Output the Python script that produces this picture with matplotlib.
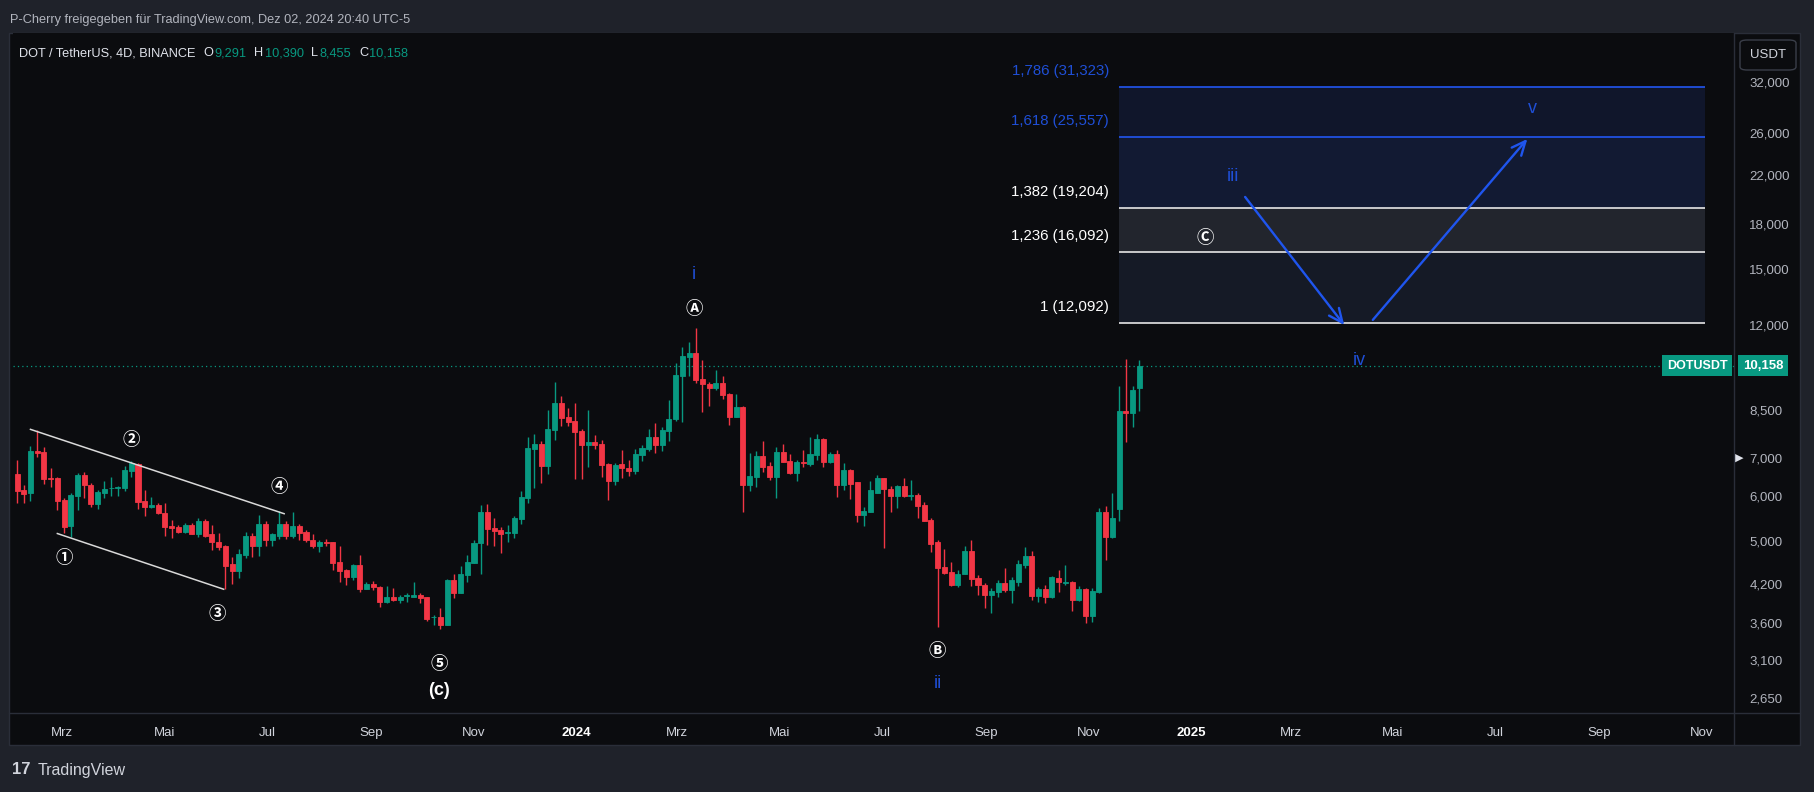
import numpy as np
import pandas as pd
import matplotlib
matplotlib.use("Agg")
import matplotlib.pyplot as plt
import matplotlib.dates as mdates
from matplotlib.patches import Rectangle, FancyBboxPatch
from matplotlib.lines import Line2D
from matplotlib.ticker import NullLocator
from matplotlib.transforms import blended_transform_factory

FONT = ['Liberation Sans', 'DejaVu Sans']
CIRCLED = ['Noto Sans CJK JP', 'DejaVu Sans']
plt.rcParams['font.family'] = FONT

# ---- DOT/USDT 4D candles ----
first_bar = '2023-02-02'
opens = [6.56, 6.15, 6.07, 7.20, 7.18, 6.46, 6.47, 5.92, 5.31, 6.01,
         6.54, 6.28, 5.82, 6.08, 6.19, 6.20, 6.20, 6.65, 6.84, 5.89,
         5.75, 5.79, 5.60, 5.31, 5.30, 5.20, 5.35, 5.16, 5.43, 5.14,
         4.99, 4.91, 4.56, 4.44, 4.74, 5.11, 4.90, 5.37, 5.03, 5.11,
         5.36, 5.10, 5.33, 5.19, 5.03, 4.91, 4.99, 4.98, 4.60, 4.46,
         4.33, 4.54, 4.13, 4.20, 4.16, 3.92, 4.00, 3.94, 4.01, 4.00,
         4.02, 3.99, 3.68, 3.69, 3.57, 4.28, 4.06, 4.37, 4.59, 4.96,
         5.63, 5.28, 5.24, 5.17, 5.17, 5.48, 5.96, 7.27, 7.42, 6.79,
         7.85, 8.74, 8.27, 8.12, 7.81, 7.38, 7.48, 7.41, 6.84, 6.37,
         6.82, 6.73, 6.65, 7.09, 7.26, 7.63, 7.38, 7.81, 8.18, 9.77,
         10.53, 10.71, 9.64, 9.44, 9.30, 9.48, 9.07, 8.27, 8.61, 6.28,
         6.49, 7.06, 6.78, 6.49, 7.18, 6.92, 6.59, 6.90, 6.84, 7.10,
         7.56, 6.90, 7.12, 6.28, 6.67, 6.35, 5.55, 5.64, 6.08, 6.45,
         6.18, 6.01, 6.26, 6.01, 6.03, 5.79, 5.45, 4.98, 4.50, 4.41,
         4.19, 4.39, 4.81, 4.31, 4.19, 4.03, 4.08, 4.22, 4.11, 4.25,
         4.54, 4.72, 4.01, 4.12, 3.99, 4.32, 4.23, 4.25, 3.95, 4.12,
         3.70, 4.08, 5.63, 5.08, 5.70, 8.47, 8.40, 9.291]
highs = [6.95, 6.28, 7.35, 7.84, 7.33, 6.72, 6.49, 5.95, 6.07, 6.59,
         6.62, 6.33, 6.15, 6.37, 6.49, 6.26, 6.78, 6.92, 6.86, 6.15,
         5.98, 5.84, 5.83, 5.45, 5.35, 5.38, 5.38, 5.49, 5.48, 5.35,
         5.18, 4.93, 4.70, 4.85, 5.20, 5.17, 5.57, 5.42, 5.17, 5.66,
         5.42, 5.64, 5.36, 5.24, 5.16, 5.03, 5.05, 4.99, 4.91, 4.47,
         4.56, 4.74, 4.24, 4.26, 4.18, 4.17, 4.14, 4.03, 4.06, 4.24,
         4.05, 4.00, 3.72, 3.82, 4.29, 4.38, 4.53, 4.74, 5.03, 5.79,
         5.82, 5.49, 5.30, 5.34, 5.53, 6.13, 7.61, 7.71, 7.49, 8.50,
         9.52, 8.99, 8.58, 8.74, 7.86, 8.50, 7.68, 7.53, 6.87, 6.86,
         7.23, 6.95, 7.25, 7.37, 7.86, 8.06, 7.95, 8.85, 10.26, 10.95,
         11.19, 11.82, 10.40, 9.53, 9.99, 9.75, 9.10, 9.06, 8.63, 7.13,
         7.20, 7.50, 6.89, 7.33, 7.41, 7.11, 6.95, 7.23, 7.63, 7.71,
         7.60, 7.16, 7.23, 6.86, 6.69, 6.36, 5.75, 6.37, 6.54, 6.47,
         6.24, 6.28, 6.47, 6.41, 6.07, 5.85, 5.49, 5.03, 4.85, 4.60,
         4.45, 4.90, 5.03, 4.37, 4.22, 4.14, 4.27, 4.49, 4.33, 4.63,
         4.88, 4.80, 4.15, 4.19, 4.34, 4.45, 4.54, 4.26, 4.17, 4.14,
         4.14, 5.72, 5.77, 6.07, 9.37, 10.45, 9.35, 10.390]
lows = [5.83, 5.83, 5.89, 7.04, 6.31, 6.22, 5.68, 5.18, 5.09, 5.68,
        5.95, 5.75, 5.70, 5.96, 6.00, 6.00, 6.13, 6.49, 5.70, 5.53,
        5.71, 5.59, 5.10, 5.06, 5.17, 5.18, 5.14, 5.09, 5.08, 4.83,
        4.83, 4.12, 4.21, 4.31, 4.67, 4.70, 4.72, 4.91, 4.91, 5.05,
        5.05, 5.07, 5.03, 4.98, 4.86, 4.78, 4.90, 4.46, 4.25, 4.19,
        4.28, 4.07, 4.12, 4.10, 3.84, 3.90, 3.93, 3.89, 3.91, 3.99,
        3.90, 3.63, 3.56, 3.51, 3.57, 3.97, 4.05, 4.25, 4.58, 4.39,
        4.93, 4.91, 4.77, 4.98, 5.07, 5.36, 5.84, 6.21, 6.32, 6.56,
        7.53, 7.97, 7.97, 6.44, 6.44, 6.75, 7.25, 6.49, 5.91, 6.28,
        6.47, 6.52, 6.56, 6.93, 7.21, 7.15, 7.21, 7.51, 8.13, 8.10,
        9.75, 9.47, 8.44, 8.64, 9.22, 8.88, 8.00, 8.25, 5.62, 6.13,
        6.22, 6.62, 6.41, 5.96, 6.89, 6.56, 6.37, 6.76, 6.79, 6.95,
        6.75, 6.86, 5.99, 6.15, 5.93, 5.40, 5.32, 5.64, 6.07, 4.86,
        5.64, 5.73, 5.97, 5.92, 5.49, 5.42, 4.79, 3.54, 4.39, 4.17,
        4.15, 4.38, 4.18, 4.03, 3.82, 3.75, 4.00, 4.08, 3.90, 4.17,
        4.49, 3.94, 3.92, 3.90, 3.98, 4.08, 4.19, 3.78, 3.93, 3.60,
        3.61, 4.06, 4.63, 5.07, 5.42, 7.48, 7.95, 8.455]
closes = [6.13, 6.05, 7.21, 7.13, 6.44, 6.44, 5.89, 5.30, 6.03, 6.54,
          6.28, 5.82, 6.11, 6.18, 6.21, 6.22, 6.67, 6.86, 5.87, 5.75,
          5.79, 5.60, 5.30, 5.28, 5.20, 5.35, 5.16, 5.43, 5.11, 4.98,
          4.88, 4.53, 4.44, 4.75, 5.11, 4.90, 5.36, 5.03, 5.14, 5.36,
          5.10, 5.33, 5.17, 5.02, 4.91, 4.99, 4.97, 4.59, 4.44, 4.33,
          4.54, 4.12, 4.20, 4.15, 3.92, 3.99, 3.94, 4.00, 4.03, 4.02,
          3.97, 3.66, 3.69, 3.57, 4.28, 4.05, 4.38, 4.60, 4.97, 5.63,
          5.26, 5.22, 5.16, 5.19, 5.50, 5.98, 7.29, 7.42, 6.79, 7.87,
          8.74, 8.24, 8.10, 7.78, 7.38, 7.48, 7.38, 6.81, 6.37, 6.81,
          6.72, 6.65, 7.11, 7.30, 7.63, 7.38, 7.84, 8.19, 9.79, 10.56,
          10.71, 9.60, 9.43, 9.30, 9.47, 9.04, 8.27, 8.59, 6.28, 6.51,
          7.07, 6.76, 6.48, 7.18, 6.90, 6.59, 6.89, 6.86, 7.11, 7.56,
          6.90, 7.11, 6.28, 6.67, 6.31, 5.55, 5.66, 6.14, 6.45, 6.17,
          6.01, 6.26, 6.00, 6.03, 5.77, 5.43, 4.95, 4.49, 4.40, 4.19,
          4.39, 4.81, 4.30, 4.19, 4.03, 4.09, 4.22, 4.11, 4.27, 4.56,
          4.72, 4.01, 4.12, 3.99, 4.33, 4.25, 4.25, 3.95, 4.12, 3.70,
          4.09, 5.63, 5.08, 5.50, 8.47, 8.40, 9.22, 10.158]

last_close = 10.158

# ---- Fibonacci extension box ----
fib_ratios = ['1', '1,236', '1,382', '1,618', '1,786']
fib_prices = [12.092, 16.092, 19.204, 25.557, 31.323]
fib_line_colors = ['#e6e6e6', '#e6e6e6', '#e6e6e6', '#2256f0', '#2256f0']
fib_text_colors = ['#ffffff', '#ffffff', '#ffffff', '#1f4fd6', '#1f4fd6']
fib_band_colors = ['#151a26', '#22252d', '#121a33', '#10162b']
fib_start, fib_end = '2024-11-19', '2025-11-03'

# ---- Elliott wave labels: text, date, price ----
circled_labels = ['①', '②', '③', '④', '⑤', 'Ⓐ', 'Ⓑ', 'Ⓒ']
circled_dates = ['2023-03-02', '2023-04-11', '2023-06-01', '2023-07-08',
                 '2023-10-11', '2024-03-11', '2024-08-03', '2025-01-09']
circled_prices = [4.67, 7.53, 3.73, 6.23, 3.05, 12.79, 3.21, 17.04]

minor_labels = ['i', 'ii', 'iii', 'iv', 'v']
minor_dates = ['2024-03-11', '2024-08-03', '2025-01-26', '2025-04-11', '2025-07-23']
minor_prices = [14.67, 2.82, 21.79, 10.40, 28.69]

c_label_date, c_label_price = '2023-10-11', 2.74

# projected path iii -> iv -> v
arrow_starts = [('2025-02-02', 20.10), ('2025-04-19', 12.23)]
arrow_ends = [('2025-04-02', 11.98), ('2025-07-20', 25.41)]

# falling channel
channel_upper = [('2023-02-10', 7.86), ('2023-07-11', 5.59)]
channel_lower = [('2023-02-26', 5.16), ('2023-06-05', 4.12)]

# ---- axes ticks ----
y_ticks = [2.65, 3.1, 3.6, 4.2, 5.0, 6.0, 7.0, 8.5, 12.0, 15.0, 18.0, 22.0, 26.0, 32.0]
x_tick_dates = ['2023-03-01', '2023-05-01', '2023-07-01', '2023-09-01', '2023-11-01',
                '2024-01-01', '2024-03-01', '2024-05-01', '2024-07-01', '2024-09-01',
                '2024-11-01', '2025-01-01', '2025-03-01', '2025-05-01', '2025-07-01',
                '2025-09-01', '2025-11-01']
x_tick_labels = ['Mrz', 'Mai', 'Jul', 'Sep', 'Nov', '2024', 'Mrz', 'Mai', 'Jul', 'Sep',
                 'Nov', '2025', 'Mrz', 'Mai', 'Jul', 'Sep', 'Nov']

# ---- colours ----
OUTER = '#1f222a'
PANEL = '#0b0c0f'
SEP = '#2a2e39'
GREEN = '#089981'
RED = '#f23645'
BLUE = '#1f4fd6'
ARROW = '#1f55ee'
AXTXT = '#b2b5be'

W, H = 1814, 792
fig = plt.figure(figsize=(W / 100, H / 100), dpi=100, facecolor=OUTER)


def fx(px):
    return px / W


def fy(py):
    return 1 - py / H


def dn(d):
    return mdates.date2num(pd.Timestamp(d))


# dark chart panel incl. both scales
fig.patches.append(Rectangle((fx(9), fy(745)), (1800 - 9) / W, (745 - 33) / H,
                             transform=fig.transFigure, facecolor=PANEL,
                             edgecolor=SEP, linewidth=1, zorder=-5))

ax = fig.add_axes([fx(13), fy(713), (1734 - 13) / W, (713 - 33) / H])
ax.set_facecolor(PANEL)
ax.set_zorder(1)
for s in ax.spines.values():
    s.set_visible(False)

d0 = dn(first_bar)
dates = pd.date_range(first_bar, periods=len(opens), freq='4D')
x = mdates.date2num(dates)
o, h, l, c = map(np.array, (opens, highs, lows, closes))
cols = np.where(c >= o, GREEN, RED)

ax.set_yscale('log')
ax.set_ylim(2.499, 38.98)
ax.set_xlim(d0 - 2.4, d0 + 1022)

# candles
ax.vlines(x, l, h, colors=cols, linewidth=1, zorder=3)
ax.bar(x, np.abs(c - o), bottom=np.minimum(o, c), width=3.0, color=cols,
       edgecolor=cols, linewidth=0.6, zorder=4)

# last price line
ax.axhline(last_close, color=GREEN, linestyle=(0, (1, 2.5)), linewidth=0.9, zorder=2)

# fib box
fs, fe = dn(fib_start), dn(fib_end)
for i, col in enumerate(fib_band_colors):
    ax.fill_between([fs, fe], fib_prices[i], fib_prices[i + 1], color=col,
                    linewidth=0, zorder=1)
for ratio, price, lc, tc in zip(fib_ratios, fib_prices, fib_line_colors, fib_text_colors):
    ax.hlines(price, fs, fe, color=lc, linewidth=1.2, zorder=2)
    ax.annotate(f"{ratio} ({price:.3f})".replace('.', ','), xy=(fs, price),
                xytext=(-10, 16), textcoords='offset pixels', ha='right', va='center',
                color=tc, fontsize=10.8, zorder=6)

# channel
for seg in (channel_upper, channel_lower):
    ax.plot([dn(d) for d, _ in seg], [p for _, p in seg], color='#d9d9d9',
            linewidth=1.1, zorder=5)

# arrows
for (sd, sp), (ed, ep) in zip(arrow_starts, arrow_ends):
    ax.annotate('', xy=(dn(ed), ep), xytext=(dn(sd), sp),
                arrowprops=dict(arrowstyle='->,head_length=1.0,head_width=0.45',
                                color=ARROW, linewidth=1.7, shrinkA=0, shrinkB=0),
                zorder=6)

# wave labels
for t, d, p in zip(circled_labels, circled_dates, circled_prices):
    ax.text(dn(d), p, t, color='white', fontsize=12.5, fontweight='bold',
            ha='center', va='center', family=CIRCLED, zorder=7)
for t, d, p in zip(minor_labels, minor_dates, minor_prices):
    ax.text(dn(d), p, t, color=BLUE, fontsize=13, ha='center', va='center', zorder=7)
ax.text(dn(c_label_date), c_label_price, '(c)', color='white', fontsize=13,
        fontweight='bold', ha='center', va='center', zorder=7)

# y axis on the right
ax.yaxis.tick_right()
ax.yaxis.set_minor_locator(NullLocator())
ax.set_yticks(y_ticks)
ax.set_yticklabels([f"{v:.3f}".replace('.', ',') for v in y_ticks])
ax.tick_params(axis='y', length=0, pad=11, labelsize=9.5, labelcolor=AXTXT)

# x axis
ax.set_xticks([dn(d) for d in x_tick_dates])
ax.set_xticklabels(x_tick_labels)
ax.tick_params(axis='x', length=0, pad=10, labelsize=9.5, labelcolor='#d1d4dc')
for lab in ax.get_xticklabels():
    if lab.get_text().isdigit():
        lab.set_fontweight('bold')
        lab.set_color('white')
ax.xaxis.set_minor_locator(NullLocator())

# separators
fig.add_artist(Line2D([fx(1734), fx(1734)], [fy(33), fy(745)], color=SEP, linewidth=1, zorder=3))
fig.add_artist(Line2D([fx(9), fx(1800)], [fy(713), fy(713)], color=SEP, linewidth=1, zorder=3))

# price tags
bt = blended_transform_factory(fig.transFigure, ax.transData)
ax.text(fx(1697), last_close, 'DOTUSDT', transform=bt, ha='center', va='center',
        color='white', fontsize=9, fontweight='bold', zorder=8,
        bbox=dict(boxstyle='square,pad=0.35', facecolor=GREEN, edgecolor='none'))
ax.text(fx(1763), last_close, f"{last_close:.3f}".replace('.', ','), transform=bt,
        ha='center', va='center', color='white', fontsize=9.5, fontweight='bold', zorder=8,
        bbox=dict(boxstyle='square,pad=0.35', facecolor=GREEN, edgecolor='none'))
ax.text(fx(1735), 7.0, '▶', transform=bt, ha='left', va='center', color='#e0e3eb',
        fontsize=8, family=['DejaVu Sans'], zorder=8)

# USDT button
fig.add_artist(FancyBboxPatch((fx(1740), fy(70)), (1796 - 1740) / W, (70 - 40) / H,
                              boxstyle='round,pad=0,rounding_size=0.004',
                              transform=fig.transFigure, facecolor=PANEL,
                              edgecolor='#3a3e49', linewidth=1, zorder=9))
fig.text(fx(1768), fy(55), 'USDT', ha='center', va='center', color='#d1d4dc',
         fontsize=9.5, zorder=10)

# header texts
fig.text(fx(10), fy(20), 'P-Cherry freigegeben für TradingView.com, Dez 02, 2024 20:40 UTC-5',
         ha='left', va='center', color=AXTXT, fontsize=9.2)

renderer = fig.canvas.get_renderer()
cursor = 19
title = fig.text(fx(cursor), fy(53), 'DOT / TetherUS, 4D, BINANCE', ha='left', va='center',
                 color='#e0e3eb', fontsize=9.2)
cursor = title.get_window_extent(renderer).x1 + 8
ohlc_letters = ['O', 'H', 'L', 'C']
ohlc_values = [opens[-1], highs[-1], lows[-1], closes[-1]]
for t, v in zip(ohlc_letters, ohlc_values):
    lt = fig.text(fx(cursor), fy(53), t, ha='left', va='center', color='#e0e3eb',
                  fontsize=9.2)
    cursor = lt.get_window_extent(renderer).x1 + 1
    vt = fig.text(fx(cursor), fy(53), f"{v:.3f}".replace('.', ','), ha='left',
                  va='center', color=GREEN, fontsize=9.2)
    cursor = vt.get_window_extent(renderer).x1 + 8

# TradingView logo
fig.text(fx(12), fy(770), '17', ha='left', va='center', color='#d1d4dc',
         fontsize=12, fontweight='bold')
fig.text(fx(38), fy(770), 'TradingView', ha='left', va='center', color='#d1d4dc',
         fontsize=11.5)

fig.savefig('out.png', dpi=100, facecolor=OUTER)
